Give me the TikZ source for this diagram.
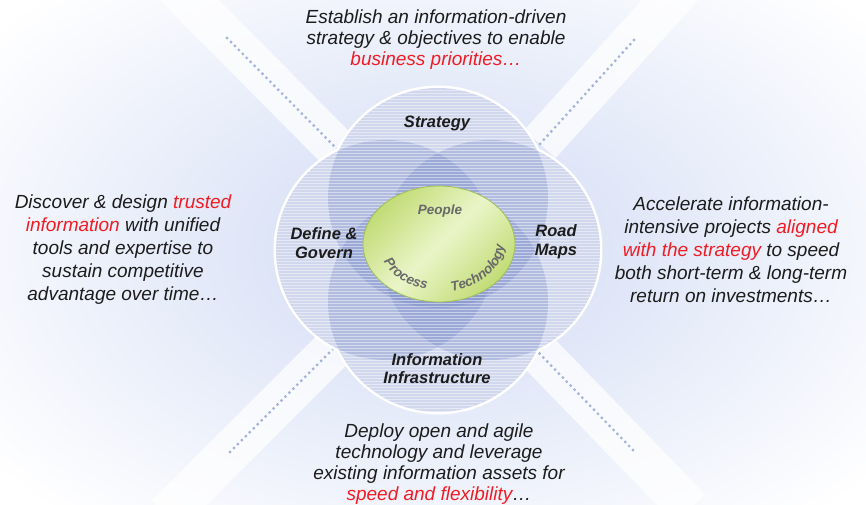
\documentclass[tikz,border=0pt]{standalone}
\usepackage{fontspec}
\setmainfont{Liberation Sans}
\usetikzlibrary{patterns,calc,decorations.text}
\definecolor{petalblue}{RGB}{112,132,198}
\definecolor{glowblue}{RGB}{208,218,244}
\definecolor{dotblue}{RGB}{164,180,222}
\definecolor{limefill}{RGB}{194,220,118}
\definecolor{limelight}{RGB}{234,245,200}
\definecolor{limeedge}{RGB}{160,190,84}
\definecolor{hotred}{RGB}{240,28,36}
\definecolor{inktext}{RGB}{28,28,28}
\definecolor{greytext}{RGB}{105,105,105}

\begin{document}
\begin{tikzpicture}[line cap=round,line join=round,x=1pt,y=1pt,
		petal/.style={fill=petalblue,fill opacity=.32},
		blurb/.style={align=center,text=inktext,font=\fontsize{19}{23}\selectfont\itshape,inner sep=0pt},
		tag/.style={align=center,text=inktext,font=\fontsize{16.5}{19}\selectfont\bfseries\itshape,inner sep=0pt},
		core/.style={text=greytext,font=\fontsize{13.5}{15}\selectfont\bfseries\itshape,inner sep=0pt},
		arctext/.style={decorate,decoration={text along path,text align=center,text color=greytext,text={|\fontsize{13.5}{15}\selectfont\bfseries\itshape|#1}}},
		ray/.style={white,line width=42,opacity=.75,line cap=butt},
		dotline/.style={dotblue,line width=3.2,dash pattern=on 0pt off 5.6pt}]
		\useasboundingbox (0,0) rectangle (866,-505);
		\clip (0,0) rectangle (866,-505);
		% glow and rays behind the flower
		\shade[inner color=glowblue,outer color=white] (438,-250) ellipse (560 and 360);
		\coordinate (nw) at (227,-38);
		\coordinate (ne) at (634,-40);
		\coordinate (sw) at (230,-452);
		\coordinate (se) at (633,-450);
		\coordinate (nwin) at (336,-148);
		\coordinate (nein) at (540,-144);
		\coordinate (swin) at (336,-346);
		\coordinate (sein) at (538,-352);
		\draw[ray] (nwin) -- ($(nwin)!1.6!(nw)$);
		\draw[ray] (nein) -- ($(nein)!1.6!(ne)$);
		\draw[ray] (swin) -- ($(swin)!1.6!(sw)$);
		\draw[ray] (sein) -- ($(sein)!1.6!(se)$);
		\draw[dotline] (nw) -- (nwin);
		\draw[dotline] (ne) -- (nein);
		\draw[dotline] (sw) -- (swin);
		\draw[dotline] (se) -- (sein);
		% the four petals
		\draw[white,line width=5] (438,-198) circle (110) (438,-302) circle (110) (386,-250) circle (110) (490,-250) circle (110);
		\fill[white] (438,-198) circle (110) (438,-302) circle (110) (386,-250) circle (110) (490,-250) circle (110);
		\foreach \dx/\dy in {0/52,0/-52,-52/0,52/0}
			\fill[petal] ({438+\dx},{-250+\dy}) circle (110);
		\fill[pattern=horizontal lines,pattern color=white,opacity=.45] (438,-198) circle (110) (438,-302) circle (110) (386,-250) circle (110) (490,-250) circle (110);
		% centre
		\shadedraw[top color=limefill,bottom color=limefill,middle color=limelight,shading angle=45,draw=limeedge,line width=.8] (439,-244) ellipse (76 and 58);
		\node[core] (people) at (440,-211) {People};
		\path[arctext=Process] (439,-244) ++(198:60 and 46) arc[start angle=198,end angle=262,x radius=60,y radius=46];
		\path[arctext=Technology] (439,-244) ++(282:65 and 48) arc[start angle=282,end angle=358,x radius=65,y radius=48];
		\node[tag] (strategy) at (437,-123) {Strategy};
		\node[tag] (govern) at (324,-243) {Define \&\\Govern};
		\node[tag] (roadmaps) at (556,-242) {Road\\Maps};
		\node[tag,font=\fontsize{16.5}{18}\selectfont\bfseries\itshape] (infra) at (437,-369) {Information\\Infrastructure};
		% outer texts
		\node[blurb,font=\fontsize{19}{21}\selectfont\itshape] (goal) at (436,-40) {Establish an information-driven\\strategy \& objectives to enable\\\textcolor{hotred}{business priorities…}};
		\node[blurb] (discover) at (123,-250) {Discover \& design \textcolor{hotred}{trusted}\\\textcolor{hotred}{information} with unified\\tools and expertise to\\sustain competitive\\advantage over time…};
		\node[blurb] (accelerate) at (731,-250) {Accelerate information-\\intensive projects \textcolor{hotred}{aligned}\\\textcolor{hotred}{with the strategy} to speed\\both short-term \& long-term\\return on investments…};
		\node[blurb,font=\fontsize{19}{21}\selectfont\itshape] (deploy) at (439,-464) {Deploy open and agile\\technology and leverage\\existing information assets for\\\textcolor{hotred}{speed and flexibility}…};
	\end{tikzpicture}
\end{document}
